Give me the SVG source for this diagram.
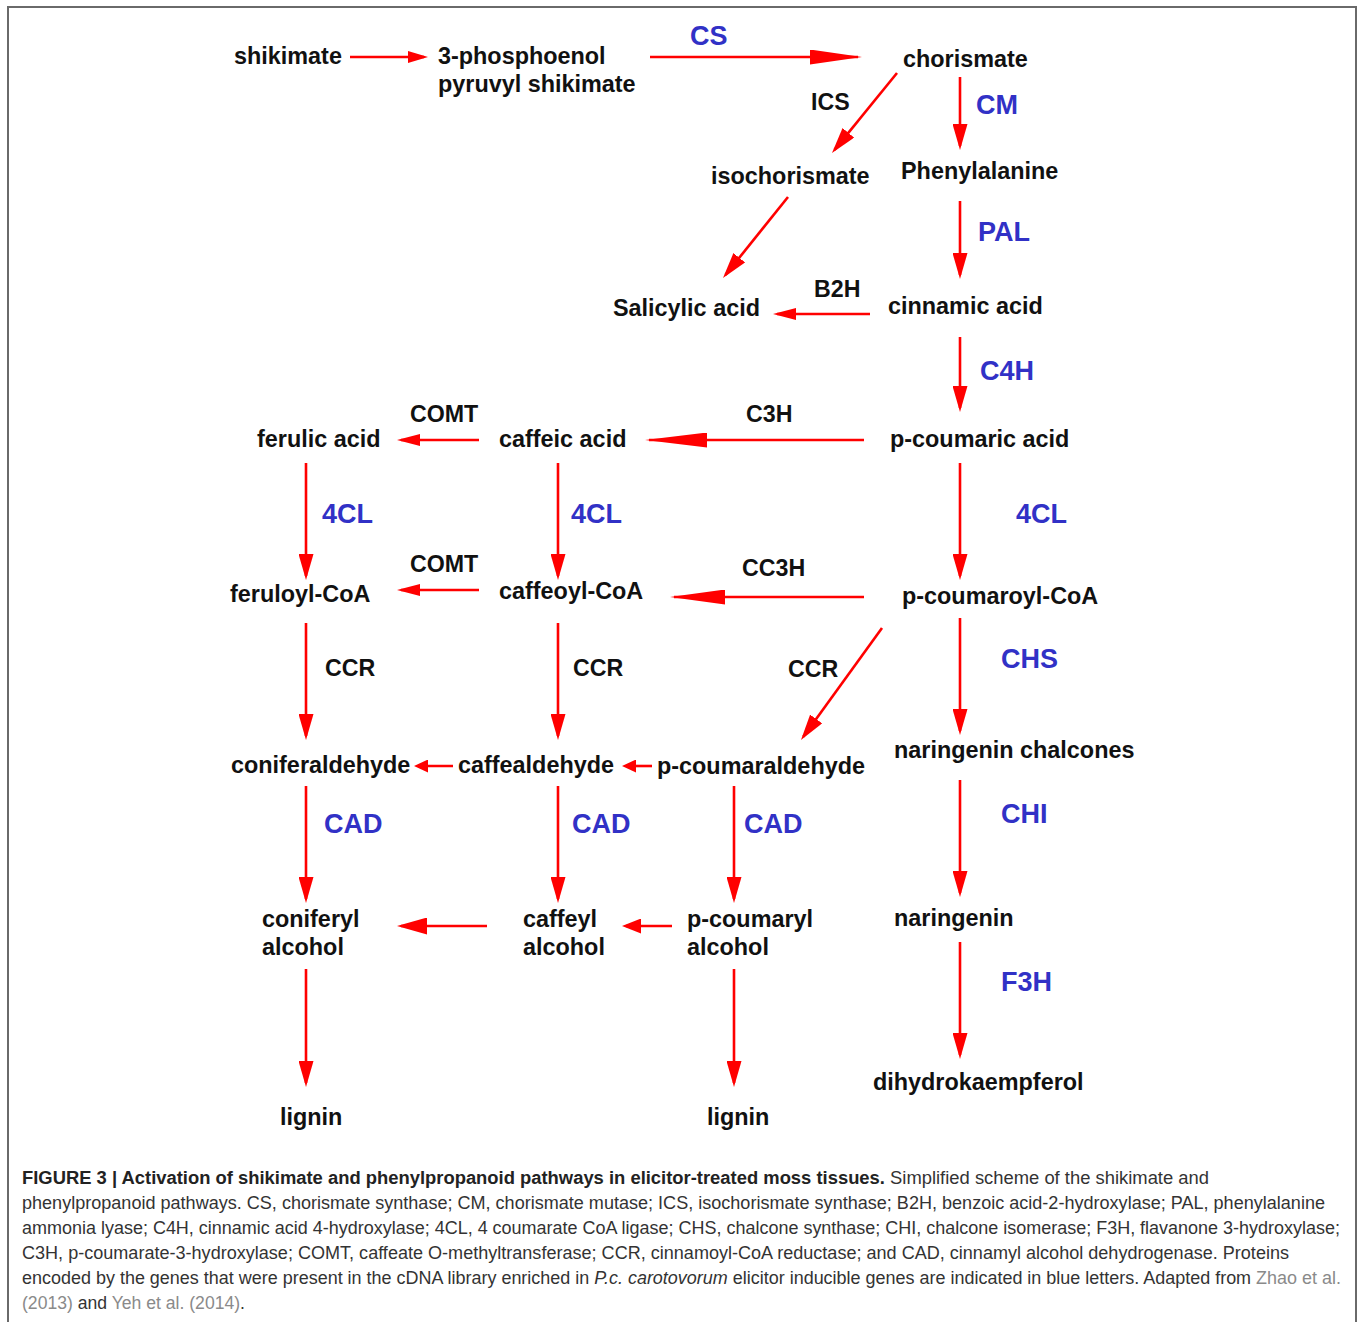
<svg xmlns="http://www.w3.org/2000/svg" width="1360" height="1322" viewBox="0 0 1360 1322">
<style>
.n{font-family:"Liberation Sans",Arial,sans-serif;font-weight:bold;font-size:23.4px;fill:#111}
.e{font-family:"Liberation Sans",Arial,sans-serif;font-weight:bold;font-size:23.2px;fill:#111}
.b{font-family:"Liberation Sans",Arial,sans-serif;font-weight:bold;font-size:27px;fill:#3131c6}
.c{stroke:#ff0000;stroke-width:2.6;fill:none}
.cap{font-family:"Liberation Sans",Arial,sans-serif;font-size:17.5px;fill:#333}
.lk{fill:#8a8a8a}
</style>
<defs>
<marker id="hA" markerUnits="userSpaceOnUse" markerWidth="26" markerHeight="15" refX="22" refY="7.5" orient="auto"><path d="M0,0 L26,7.5 L0,15 z" fill="#ff0000"/></marker>
<marker id="hS" markerUnits="userSpaceOnUse" markerWidth="23" markerHeight="12" refX="19" refY="6" orient="auto"><path d="M0,0 L23,6 L0,12 z" fill="#ff0000"/></marker>
<marker id="hS2" markerUnits="userSpaceOnUse" markerWidth="20" markerHeight="12" refX="16" refY="6" orient="auto"><path d="M0,0 L20,6 L0,12 z" fill="#ff0000"/></marker>
<marker id="hXS" markerUnits="userSpaceOnUse" markerWidth="14" markerHeight="13" refX="10" refY="6.5" orient="auto"><path d="M0,0 L14,6.5 L0,13 z" fill="#ff0000"/></marker>
<marker id="hL52" markerUnits="userSpaceOnUse" markerWidth="52" markerHeight="15" refX="48" refY="7.5" orient="auto"><path d="M0,0 L52,7.5 L0,15 z" fill="#ff0000"/></marker>
<marker id="hL62" markerUnits="userSpaceOnUse" markerWidth="62" markerHeight="15" refX="58" refY="7.5" orient="auto"><path d="M0,0 L62,7.5 L0,15 z" fill="#ff0000"/></marker>
<marker id="hL55" markerUnits="userSpaceOnUse" markerWidth="55" markerHeight="15" refX="51" refY="7.5" orient="auto"><path d="M0,0 L55,7.5 L0,15 z" fill="#ff0000"/></marker>
<marker id="hM30" markerUnits="userSpaceOnUse" markerWidth="30" markerHeight="17" refX="26" refY="8.5" orient="auto"><path d="M0,0 L30,8.5 L0,17 z" fill="#ff0000"/></marker>
<marker id="hM19" markerUnits="userSpaceOnUse" markerWidth="19" markerHeight="15" refX="15" refY="7.5" orient="auto"><path d="M0,0 L19,7.5 L0,15 z" fill="#ff0000"/></marker>
</defs>
<rect x="0" y="0" width="1360" height="1322" fill="#fff"/>
<path d="M8,1330 L8,7 L1356,7 L1356,1330" fill="none" stroke="#6a6a6a" stroke-width="2"/>

<g id="connectors">
<line class="c" x1="350" y1="57" x2="424" y2="57" marker-end="url(#hS2)"/>
<line class="c" x1="650" y1="57" x2="858" y2="57" marker-end="url(#hL52)"/>
<line class="c" x1="897" y1="73" x2="834.5" y2="149.9" marker-end="url(#hA)"/>
<line class="c" x1="960" y1="77" x2="960" y2="146" marker-end="url(#hA)"/>
<line class="c" x1="788" y1="197" x2="725.5" y2="274.9" marker-end="url(#hA)"/>
<line class="c" x1="960" y1="201" x2="960" y2="275" marker-end="url(#hA)"/>
<line class="c" x1="870" y1="314" x2="777" y2="314" marker-end="url(#hS)"/>
<line class="c" x1="960" y1="337" x2="960" y2="408" marker-end="url(#hA)"/>
<line class="c" x1="864" y1="440" x2="649" y2="440" marker-end="url(#hL62)"/>
<line class="c" x1="479" y1="440" x2="401" y2="440" marker-end="url(#hS)"/>
<line class="c" x1="306" y1="463" x2="306" y2="576" marker-end="url(#hA)"/>
<line class="c" x1="558" y1="463" x2="558" y2="576" marker-end="url(#hA)"/>
<line class="c" x1="960" y1="463" x2="960" y2="576" marker-end="url(#hA)"/>
<line class="c" x1="479" y1="590" x2="401" y2="590" marker-end="url(#hS)"/>
<line class="c" x1="864" y1="597" x2="674" y2="597" marker-end="url(#hL55)"/>
<line class="c" x1="306" y1="623" x2="306" y2="736" marker-end="url(#hA)"/>
<line class="c" x1="558" y1="623" x2="558" y2="736" marker-end="url(#hA)"/>
<line class="c" x1="882" y1="628" x2="803.3" y2="736.8" marker-end="url(#hA)"/>
<line class="c" x1="960" y1="618" x2="960" y2="731" marker-end="url(#hA)"/>
<line class="c" x1="453" y1="766" x2="418" y2="766" marker-end="url(#hXS)"/>
<line class="c" x1="652" y1="766" x2="626" y2="766" marker-end="url(#hXS)"/>
<line class="c" x1="306" y1="786" x2="306" y2="899" marker-end="url(#hA)"/>
<line class="c" x1="558" y1="786" x2="558" y2="899" marker-end="url(#hA)"/>
<line class="c" x1="734" y1="786" x2="734" y2="899" marker-end="url(#hA)"/>
<line class="c" x1="960" y1="780" x2="960" y2="893" marker-end="url(#hA)"/>
<line class="c" x1="960" y1="942" x2="960" y2="1055" marker-end="url(#hA)"/>
<line class="c" x1="487" y1="926" x2="401" y2="926" marker-end="url(#hM30)"/>
<line class="c" x1="672" y1="926" x2="626" y2="926" marker-end="url(#hM19)"/>
<line class="c" x1="306" y1="969" x2="306" y2="1083" marker-end="url(#hA)"/>
<line class="c" x1="734" y1="969" x2="734" y2="1083" marker-end="url(#hA)"/>

<text class="b" x="690" y="45">CS</text>
<text class="e" x="811" y="110">ICS</text>
<text class="b" x="976" y="114">CM</text>
<text class="b" x="978" y="241">PAL</text>
<text class="e" x="814" y="297">B2H</text>
<text class="b" x="980" y="380">C4H</text>
<text class="e" x="410" y="422">COMT</text>
<text class="e" x="746" y="422">C3H</text>
<text class="b" x="322" y="523">4CL</text>
<text class="b" x="571" y="523">4CL</text>
<text class="b" x="1016" y="523">4CL</text>
<text class="e" x="410" y="572">COMT</text>
<text class="e" x="742" y="576">CC3H</text>
<text class="e" x="325" y="676">CCR</text>
<text class="e" x="573" y="676">CCR</text>
<text class="e" x="788" y="677">CCR</text>
<text class="b" x="1001" y="668">CHS</text>
<text class="b" x="324" y="833">CAD</text>
<text class="b" x="572" y="833">CAD</text>
<text class="b" x="744" y="833">CAD</text>
<text class="b" x="1001" y="823">CHI</text>
<text class="b" x="1001" y="991">F3H</text>
</g>

<g id="shikimate"><text class="n" x="234" y="64">shikimate</text></g>
<g id="pep-shikimate"><text class="n" x="438" y="64">3-phosphoenol</text><text class="n" x="438" y="92">pyruvyl shikimate</text></g>
<g id="chorismate"><text class="n" x="903" y="67">chorismate</text></g>
<g id="isochorismate"><text class="n" x="711" y="184">isochorismate</text></g>
<g id="phenylalanine"><text class="n" x="901" y="179">Phenylalanine</text></g>
<g id="salicylic-acid"><text class="n" x="613" y="316">Salicylic acid</text></g>
<g id="cinnamic-acid"><text class="n" x="888" y="314">cinnamic acid</text></g>
<g id="ferulic-acid"><text class="n" x="257" y="447">ferulic acid</text></g>
<g id="caffeic-acid"><text class="n" x="499" y="447">caffeic acid</text></g>
<g id="p-coumaric-acid"><text class="n" x="890" y="447">p-coumaric acid</text></g>
<g id="feruloyl-coa"><text class="n" x="230" y="602">feruloyl-CoA</text></g>
<g id="caffeoyl-coa"><text class="n" x="499" y="599">caffeoyl-CoA</text></g>
<g id="p-coumaroyl-coa"><text class="n" x="902" y="604">p-coumaroyl-CoA</text></g>
<g id="coniferaldehyde"><text class="n" x="231" y="773">coniferaldehyde</text></g>
<g id="caffealdehyde"><text class="n" x="458" y="773">caffealdehyde</text></g>
<g id="p-coumaraldehyde"><text class="n" x="657" y="774">p-coumaraldehyde</text></g>
<g id="naringenin-chalcones"><text class="n" x="894" y="758">naringenin chalcones</text></g>
<g id="coniferyl-alcohol"><text class="n" x="262" y="927">coniferyl</text><text class="n" x="262" y="955">alcohol</text></g>
<g id="caffeyl-alcohol"><text class="n" x="523" y="927">caffeyl</text><text class="n" x="523" y="955">alcohol</text></g>
<g id="p-coumaryl-alcohol"><text class="n" x="687" y="927">p-coumaryl</text><text class="n" x="687" y="955">alcohol</text></g>
<g id="naringenin"><text class="n" x="894" y="926">naringenin</text></g>
<g id="dihydrokaempferol"><text class="n" x="873" y="1090">dihydrokaempferol</text></g>
<g id="lignin-1"><text class="n" x="280" y="1125">lignin</text></g>
<g id="lignin-2"><text class="n" x="707" y="1125">lignin</text></g>

<g id="caption">
<text class="cap" x="22" y="1184" textLength="1187" lengthAdjust="spacingAndGlyphs"><tspan font-weight="bold" fill="#222">FIGURE 3 | Activation of shikimate and phenylpropanoid pathways in elicitor-treated moss tissues.</tspan> Simplified scheme of the shikimate and</text>
<text class="cap" x="22" y="1209" textLength="1303" lengthAdjust="spacingAndGlyphs">phenylpropanoid pathways. CS, chorismate synthase; CM, chorismate mutase; ICS, isochorismate synthase; B2H, benzoic acid-2-hydroxylase; PAL, phenylalanine</text>
<text class="cap" x="22" y="1234" textLength="1318" lengthAdjust="spacingAndGlyphs">ammonia lyase; C4H, cinnamic acid 4-hydroxylase; 4CL, 4 coumarate CoA ligase; CHS, chalcone synthase; CHI, chalcone isomerase; F3H, flavanone 3-hydroxylase;</text>
<text class="cap" x="22" y="1259" textLength="1267" lengthAdjust="spacingAndGlyphs">C3H, p-coumarate-3-hydroxylase; COMT, caffeate O-methyltransferase; CCR, cinnamoyl-CoA reductase; and CAD, cinnamyl alcohol dehydrogenase. Proteins</text>
<text class="cap" x="22" y="1284" textLength="1319" lengthAdjust="spacingAndGlyphs">encoded by the genes that were present in the cDNA library enriched in <tspan font-style="italic">P.c. carotovorum</tspan> elicitor inducible genes are indicated in blue letters. Adapted from <tspan class="lk">Zhao et al.</tspan></text>
<text class="cap" x="22" y="1309" textLength="223" lengthAdjust="spacingAndGlyphs"><tspan class="lk">(2013)</tspan> and <tspan class="lk">Yeh et al. (2014)</tspan>.</text>
</g>
</svg>
